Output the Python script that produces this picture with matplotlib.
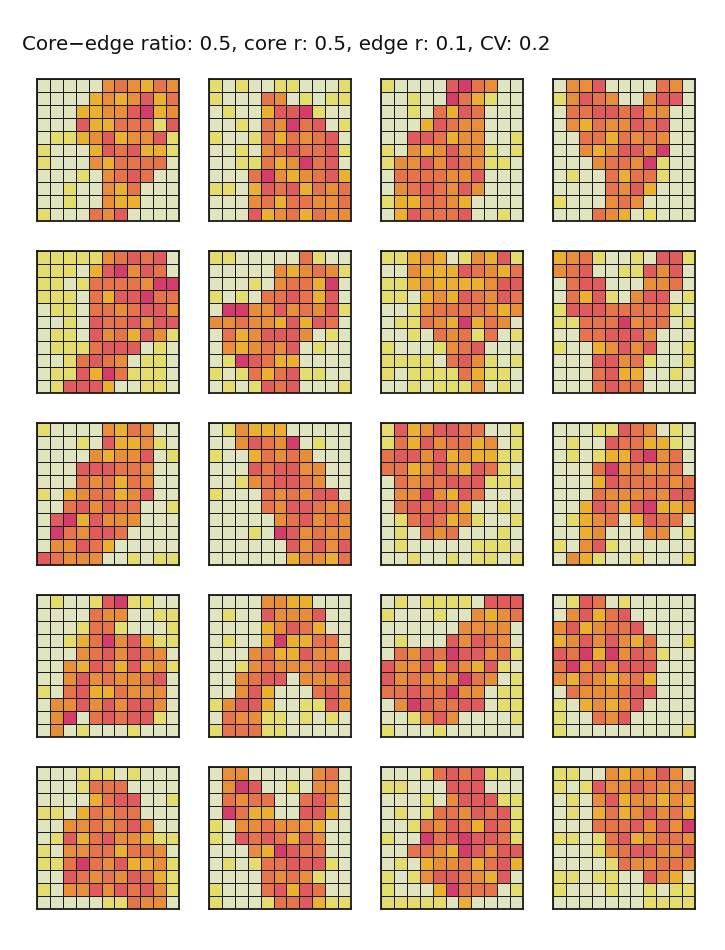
import numpy as np
import matplotlib
matplotlib.use("Agg")
import matplotlib.pyplot as plt
from matplotlib.colors import ListedColormap, BoundaryNorm

title = "Core\u2212edge ratio: 0.5, core r: 0.5, edge r: 0.1, CV: 0.2"

# class levels: 0 cream, 1 yellow, 2 gold, 3 orange, 4 coral, 5 red, 6 magenta
level_colors = ["#e1e5bf", "#e5dd6b", "#eab02e", "#e88d38", "#e5744a", "#df5b5c", "#d43d6b"]

panel_01 = ["00000343243", "00002323524", "00022335623", "00052244415", "01123523351",
            "10002545221", "10003244440", "00010345400", "00100324000", "00100322000", "10004350000"]
panel_02 = ["10100110001", "10004301011", "01002556100", "00104364501", "10014243450",
            "00103454451", "00114236450", "00046323452", "11025452434", "00034244334", "00052342433"]
panel_03 = ["10000564300", "00100642100", "00104254000", "00025433000", "00554233001",
            "10323533101", "13353543110", "04444335000", "03454353000", "12244320000", "02544450010"]
panel_04 = ["03350000430", "13543003550", "04455453300", "03243354500", "00442434300",
            "00323553600", "00034436100", "01004244100", "00004352000", "10003430000", "00043201000"]
panel_05 = ["11111345450", "11102563540", "11014444366", "11104255644", "01104434553",
            "00105445355", "01105342531", "01114555010", "00145430110", "01152641110", "01555200110"]
panel_06 = ["11000004100", "00000323431", "00010344260", "10104454250", "06633534351",
            "33433252540", "04235553010", "03234350100", "01654220000", "10142451100", "01015450001"]
panel_07 = ["11232013251", "00322254324", "11232222355", "11023254354", "00134444323",
            "01143262430", "00104341401", "10001345000", "11110453101", "10111142110", "00101113010"]
panel_08 = ["23410010551", "34500115350", "04550003340", "04251035501", "15554444410",
            "11444634401", "00445553000", "10023535001", "00055341001", "00045220010", "00045440000"]
panel_09 = ["10000324300", "00010522310", "00003233501", "00055544300", "00043424300",
            "10234423500", "00453544001", "05625333000", "06435540000", "03354200000", "54333001011"]
panel_10 = ["01322200000", "00354360100", "10024343000", "00054553300", "00134554300",
            "10004343550", "00004355434", "00000345343", "00010653433", "00000053535", "00000023324"]
panel_11 = ["15235544001", "14253442301", "45535232211", "44235325410", "04344555111",
            "03363254000", "04545420010", "01454231001", "01043400010", "01000001110", "00100101101"]
panel_12 = ["00011543010", "01005442210", "01012256340", "00046343340", "00025444434",
            "00043334355", "00254256223", "01234025440", "00230003301", "10351000000", "03210010001"]
panel_13 = ["01001561100", "00004330011", "00014410001", "00124635211", "00034535430",
            "00325425231", "00353433450", "10452243330", "03353535530", "03604545510", "03010001000"]
panel_14 = ["00003322000", "01005333500", "00002354200", "01002622440", "00034225330",
            "00134333455", "00345503334", "00352000453", "13552001153", "04331101010", "14441100000"]
panel_15 = ["01011110555", "10001003234", "00000033330", "01000535430", "04354655341",
            "53352532510", "53433364301", "44544633011", "03654455011", "00135300001", "10001000000"]
panel_16 = ["01540100000", "03524500000", "35234450000", "23535324001", "54626354100",
            "46353555000", "32432342000", "04333455000", "10232350000", "10043500000", "10000000001"]
panel_17 = ["00011101000", "00014440000", "00002455001", "11024344000", "00334345300",
            "01524533211", "10334424430", "11464352231", "00543435421", "10335354531", "00000114330"]
panel_18 = ["03300000340", "03650010330", "04344004530", "06422005520", "10334333200",
            "10545425300", "00032654400", "01014455510", "00004343100", "10004525400", "10001445211"]
panel_19 = ["00014545110", "11000555000", "00010355511", "01014435451", "00143542541",
            "10064565541", "00443265355", "01023342452", "10135543250", "10002644401", "11111020000"]
panel_20 = ["11003233530", "10153354334", "01035233232", "01024235342", "00044453536",
            "11014523443", "00013455335", "00001433443", "11011005320", "10001001011", "00000001111"]

panels = [panel_01, panel_02, panel_03, panel_04, panel_05, panel_06, panel_07, panel_08,
          panel_09, panel_10, panel_11, panel_12, panel_13, panel_14, panel_15, panel_16,
          panel_17, panel_18, panel_19, panel_20]

W, H = 725, 950
fig = plt.figure(figsize=(W / 100, H / 100), dpi=100)
fig.patch.set_facecolor("white")

cmap = ListedColormap(level_colors)
norm = BoundaryNorm(np.arange(-0.5, len(level_colors) + 0.5, 1), cmap.N)

col_x = [37, 209, 381, 553]
row_y = [79, 251, 423, 595, 767]
size = 142

for i, panel in enumerate(panels):
    r, c = divmod(i, 4)
    grid = np.array([[int(ch) for ch in row] for row in panel])
    ax = fig.add_axes([col_x[c] / W, 1 - (row_y[r] + size) / H, size / W, size / H])
    ax.pcolormesh(grid, cmap=cmap, norm=norm, edgecolors="#1a1a1a", linewidth=0.6)
    ax.set_xlim(0, grid.shape[1])
    ax.set_ylim(grid.shape[0], 0)
    ax.set_xticks([])
    ax.set_yticks([])
    for sp in ax.spines.values():
        sp.set_linewidth(1.3)
        sp.set_color("#1a1a1a")

fig.text(22 / W, 1 - 45 / H, title, ha="left", va="center", fontsize=14.3,
         family="DejaVu Sans", color="#111111")

fig.savefig("out.png", dpi=100, facecolor="white")
